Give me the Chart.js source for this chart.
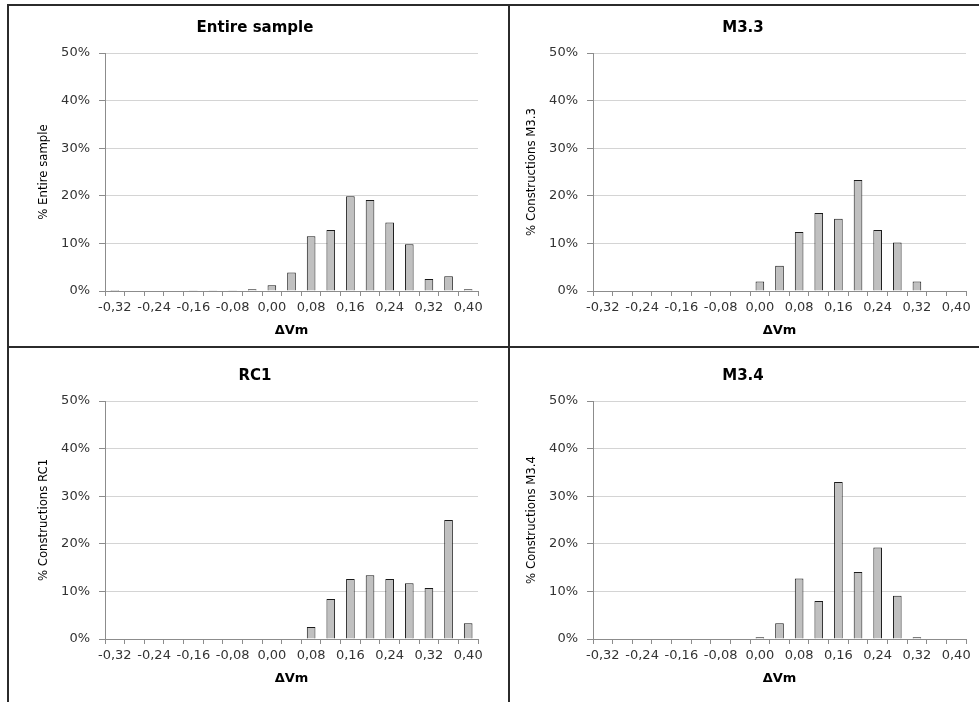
<!DOCTYPE html>
<html>
<head>
<meta charset="utf-8">
<script src="https://cdn.jsdelivr.net/npm/chart.js@4.4.0/dist/chart.umd.min.js"></script>
<style>
  body { margin: 0; background: #fff; width: 979px; height: 702px; position: relative; overflow: hidden; }
  canvas { position: absolute; }
  .line { position: absolute; background: #2b2b2b; z-index: 5; }
</style>
</head>
<body>
<canvas id="c1" width="480" height="338" style="left:10px;top:7px"></canvas>
<canvas id="c2" width="480" height="338" style="left:498px;top:7px"></canvas>
<canvas id="c3" width="480" height="338" style="left:10px;top:355px"></canvas>
<canvas id="c4" width="480" height="338" style="left:498px;top:355px"></canvas>

<!-- cuadricula de la tabla -->
<div class="line" style="left:7px;top:4px;width:972px;height:2px"></div>
<div class="line" style="left:7px;top:4px;width:2px;height:698px"></div>
<div class="line" style="left:508px;top:4px;width:2px;height:698px"></div>
<div class="line" style="left:7px;top:346px;width:972px;height:2px"></div>

<script>
// DATOS /////////////////////////////////////////////////
// Clases de ΔVm (paso 0,04), se etiqueta una de cada dos
const bins = ['-0,32', '-0,28', '-0,24', '-0,20', '-0,16', '-0,12', '-0,08', '-0,04', '0,00', '0,04',
              '0,08', '0,12', '0,16', '0,20', '0,24', '0,28', '0,32', '0,36', '0,40'];

// Porcentajes por panel
const entireSample = [0.2, 0, 0, 0, 0.15, 0.15, 0.15, 0.35, 1.2, 3.9, 11.5, 12.8, 19.9, 19.1, 14.4, 9.8, 2.5, 3.1, 0.35];
const m33 = [0, 0, 0, 0, 0, 0, 0, 0, 2.0, 5.3, 12.4, 16.4, 15.2, 23.3, 12.8, 10.2, 2.0, 0, 0];
const rc1 = [0, 0, 0, 0, 0, 0, 0, 0, 0, 0, 2.5, 8.4, 12.6, 13.4, 12.6, 11.7, 10.7, 25.0, 3.3];
const m34 = [0, 0, 0, 0, 0, 0, 0, 0, 0.35, 3.3, 12.7, 8.0, 33.0, 14.1, 19.2, 9.1, 0.35, 0, 0];

const titles = ['Entire sample', 'M3.3', 'RC1', 'M3.4'];
const yTitles = ['% Entire sample', '% Constructions M3.3', '% Constructions RC1', '% Constructions M3.4'];
const xTitle = 'ΔVm';

Chart.defaults.font.family = "'DejaVu Sans', Verdana, sans-serif";
Chart.defaults.font.size = 13;
Chart.defaults.color = '#333';

const axisGrey = '#8c8c8c';

// Crea un histograma en el canvas indicado
function makeChart(id, title, yTitle, values) {
    return new Chart(document.getElementById(id), {
        type: 'bar',
        data: {
            labels: bins,
            datasets: [{
                data: values,
                backgroundColor: '#c0c0c0',
                borderColor: '#1a1a1a',
                borderWidth: ctx => ctx.raw > 0 ? 1 : 0,
                borderSkipped: 'start',
                categoryPercentage: 1,
                barPercentage: 0.44
            }]
        },
        options: {
            responsive: false,
            animation: false,
            layout: { padding: { left: 22, right: 12, top: 0, bottom: 0 } },
            plugins: {
                legend: { display: false },
                tooltip: { enabled: false },
                title: {
                    display: true,
                    text: title,
                    color: '#000',
                    font: { size: 15, weight: 'bold' },
                    padding: { top: 12, bottom: 16 }
                }
            },
            scales: {
                x: {
                    grid: { drawOnChartArea: false, drawTicks: true, tickLength: 5, color: axisGrey, offset: true },
                    border: { color: axisGrey },
                    ticks: {
                        autoSkip: false,
                        maxRotation: 0,
                        minRotation: 0,
                        padding: 4,
                        callback: (v, i) => i % 2 === 0 ? bins[i] : ''
                    },
                    title: {
                        display: true,
                        text: xTitle,
                        color: '#000',
                        font: { weight: 'bold' },
                        padding: { top: 4, bottom: 7 }
                    },
                    afterFit: s => { s.height = 54; }
                },
                y: {
                    min: 0,
                    max: 50,
                    ticks: { stepSize: 10, padding: 9, callback: v => v + '%' },
                    grid: { color: '#d4d4d4', tickColor: axisGrey, tickLength: 6 },
                    border: { color: axisGrey },
                    title: {
                        display: true,
                        text: yTitle,
                        color: '#000',
                        font: { family: "'DejaVu Sans Condensed', 'Liberation Sans Narrow', sans-serif", size: 13 },
                        padding: { top: 4, bottom: 0 }
                    },
                    afterFit: s => { s.width = 73; }
                }
            }
        }
    });
}

makeChart('c1', titles[0], yTitles[0], entireSample);
makeChart('c2', titles[1], yTitles[1], m33);
makeChart('c3', titles[2], yTitles[2], rc1);
makeChart('c4', titles[3], yTitles[3], m34);
</script>
</body>
</html>
